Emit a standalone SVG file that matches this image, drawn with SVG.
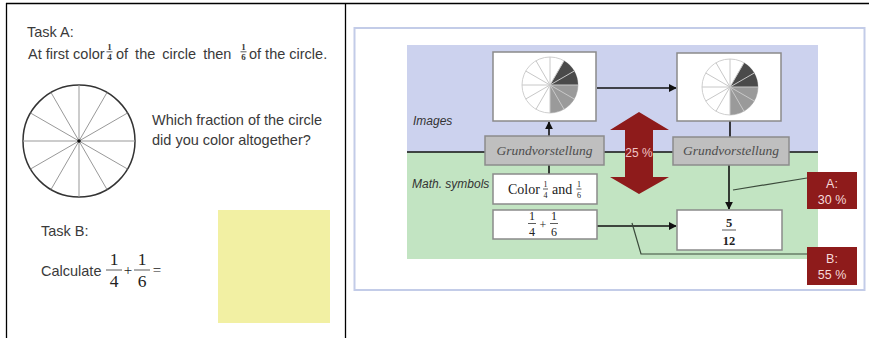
<svg xmlns="http://www.w3.org/2000/svg" width="869" height="338" viewBox="0 0 869 338">
  <defs>
    <style>
      .task{font-family:"Liberation Sans",Arial,sans-serif;font-size:14.5px;fill:#3a3a3a}
      .fs{font-family:"Liberation Serif","Times New Roman",serif;font-size:9px;font-weight:bold;fill:#3a3a3a;text-anchor:middle}
      .math{font-family:"Liberation Serif","Times New Roman",serif;fill:#222;text-anchor:middle}
      .math.start{text-anchor:start}
      .bar{stroke:#333;stroke-width:0.8}
      .lbl{font-family:"Liberation Sans",Arial,sans-serif;font-style:italic;font-size:12px;fill:#333}
      .gv rect{fill:#bfbfbf;stroke:#8c8c8c;stroke-width:1.5}
      .gv text{font-family:"Liberation Serif","Times New Roman",serif;font-style:italic;font-size:13.5px;fill:#4d4d4d;text-anchor:middle}
      .box{fill:#fff;stroke:#8a8a8a;stroke-width:1.5}
      .pct rect{fill:#8e1b1b}
      .pct text{font-family:"Liberation Sans",Arial,sans-serif;font-size:12.5px;fill:#f5dada;text-anchor:middle}
      .conn{stroke:#111;stroke-width:1.6;fill:none}
      .ptr{stroke:#3b4a3b;stroke-width:1.2;fill:none}
      .frame{stroke:#000;stroke-width:1.3;fill:none}
    </style>
    <marker id="arr" viewBox="0 0 10 10" refX="9" refY="5" markerWidth="5" markerHeight="5" orient="auto">
      <path d="M0,0 L10,5 L0,10 z" fill="#111"/>
    </marker>
    <!-- twelve-part pie, 5/12 shaded -->
    <g id="pie">
      <circle r="28" fill="#fff" stroke="#cfcfcf" stroke-width="1"/>
      <path d="M0,0 L14,-24.25 A28,28 0 0 1 28,0 Z" fill="#4a4a4a"/>
      <path d="M0,0 L28,0 A28,28 0 0 1 0,28 Z" fill="#9a9a9a"/>
      <path d="M0,-28 L0,28 M14,-24.25 L-14,24.25 M24.25,-14 L-24.25,14 M28,0 L-28,0 M24.25,14 L-24.25,-14 M14,24.25 L-14,-24.25" stroke="#c8c8c8" stroke-width="1" fill="none"/>
    </g>
  </defs>

  <rect width="869" height="338" fill="#fff"/>

  <!-- table frame -->
  <path class="frame" d="M6,3.5 H869 M6.5,3 V338 M345.5,3 V338"/>

  <!-- Task A -->
  <g id="taskA">
    <text class="task" x="27" y="37">Task A:</text>
    <text class="task" x="28" y="59">At first color</text>
    <text class="fs" x="109.5" y="50">1</text>
    <line class="bar" x1="106.5" y1="51.8" x2="112.5" y2="51.8"/>
    <text class="fs" x="109.5" y="60">4</text>
    <text class="task" x="116" y="59" word-spacing="3">of the circle then</text>
    <text class="fs" x="243.5" y="50">1</text>
    <line class="bar" x1="240.5" y1="51.8" x2="246.5" y2="51.8"/>
    <text class="fs" x="243.5" y="60">6</text>
    <text class="task" x="249" y="59">of the circle.</text>
  </g>

  <!-- circle divided into twelfths -->
  <g id="circleA">
    <circle cx="79" cy="141" r="56" fill="#fff" stroke="#333" stroke-width="1.5"/>
    <path d="M79,85 L79,197 M107,92.5 L51,189.5 M127.5,113 L30.5,169 M23,141 L135,141 M127.5,169 L30.5,113 M107,189.5 L51,92.5" stroke="#999" stroke-width="1" fill="none"/>
    <circle cx="79" cy="141" r="1.8" fill="#111"/>
  </g>

  <g id="question">
    <text class="task" x="152" y="125">Which fraction of the circle</text>
    <text class="task" x="152" y="145">did you color altogether?</text>
  </g>

  <!-- Task B -->
  <g id="taskB">
    <text class="task" x="41" y="236">Task B:</text>
    <text class="task" x="41" y="276" font-size="13.5">Calculate</text>
    <text class="math" x="114" y="265" font-size="17.5">1</text>
    <line class="bar" x1="106" y1="270" x2="122" y2="270"/>
    <text class="math" x="114" y="287" font-size="17.5">4</text>
    <text class="math" x="128" y="275" font-size="15">+</text>
    <text class="math" x="142" y="265" font-size="17.5">1</text>
    <line class="bar" x1="134" y1="270" x2="150" y2="270"/>
    <text class="math" x="142" y="287" font-size="17.5">6</text>
    <text class="math" x="157" y="275" font-size="15">=</text>
  </g>

  <rect id="answer" x="218" y="210" width="112" height="113" fill="#f2f0a3"/>

  <!-- model panel -->
  <rect x="354.5" y="28" width="510" height="262" fill="#fff" stroke="#c3cce8" stroke-width="2"/>
  <rect x="407" y="45" width="411" height="107" fill="#ccd2ee"/>
  <rect x="407" y="152" width="411" height="107" fill="#c2e4c2"/>
  <line x1="407" y1="152" x2="818" y2="152" stroke="#111" stroke-width="1.5"/>
  <text class="lbl" x="413" y="125">Images</text>
  <text class="lbl" x="412" y="188">Math. symbols</text>

  <!-- connectors -->
  <g id="connectors">
    <line class="conn" x1="597" y1="88" x2="676" y2="88" marker-end="url(#arr)"/>
    <line class="conn" x1="549" y1="136" x2="549" y2="122" marker-end="url(#arr)"/>
    <line class="conn" x1="730" y1="137" x2="730" y2="121"/>
    <line class="conn" x1="549" y1="165" x2="549" y2="174"/>
    <line class="conn" x1="729" y1="165" x2="729" y2="209" marker-end="url(#arr)"/>
    <line class="conn" x1="597" y1="226" x2="676" y2="226" marker-end="url(#arr)"/>
    <line class="ptr" x1="807" y1="178" x2="733" y2="190"/>
    <polyline class="ptr" points="807,254 641,254 632,223"/>
  </g>

  <g id="img1">
    <rect class="box" x="493" y="52" width="103" height="69"/>
    <use href="#pie" x="550" y="85"/>
  </g>
  <g id="img2">
    <rect class="box" x="677" y="53" width="104" height="68"/>
    <use href="#pie" x="730" y="87"/>
  </g>

  <g id="gv1" class="gv">
    <rect x="485" y="136" width="119" height="29"/>
    <text x="544.5" y="155">Grundvorstellung</text>
  </g>
  <g id="gv2" class="gv">
    <rect x="673" y="137" width="116" height="28"/>
    <text x="731" y="155">Grundvorstellung</text>
  </g>

  <g id="colorBox">
    <rect class="box" x="493" y="174" width="104" height="30"/>
    <text class="math start" x="508" y="194" font-size="14">Color</text>
    <text class="math" x="545.5" y="187" font-size="8">1</text>
    <line class="bar" x1="543" y1="189" x2="548" y2="189"/>
    <text class="math" x="545.5" y="197.5" font-size="8">4</text>
    <text class="math start" x="552" y="194" font-size="14">and</text>
    <text class="math" x="579" y="187" font-size="8">1</text>
    <line class="bar" x1="576.5" y1="189" x2="581.5" y2="189"/>
    <text class="math" x="579" y="197.5" font-size="8">6</text>
  </g>

  <g id="sumBox">
    <rect class="box" x="493" y="210" width="104" height="29"/>
    <text class="math" x="532" y="220" font-size="12">1</text>
    <line class="bar" x1="528" y1="223.5" x2="536" y2="223.5"/>
    <text class="math" x="532" y="236" font-size="12">4</text>
    <text class="math" x="543" y="229" font-size="12">+</text>
    <text class="math" x="554" y="220" font-size="12">1</text>
    <line class="bar" x1="550" y1="223.5" x2="558" y2="223.5"/>
    <text class="math" x="554" y="236" font-size="12">6</text>
  </g>

  <g id="resultBox">
    <rect class="box" x="677" y="210" width="105" height="40"/>
    <text class="math" x="729" y="227" font-size="12.5" font-weight="bold" fill="#555">5</text>
    <line class="bar" x1="722" y1="230" x2="736" y2="230"/>
    <text class="math" x="729" y="245" font-size="12.5" font-weight="bold" fill="#555">12</text>
  </g>

  <g id="transfer">
    <polygon points="639,112 669,130 653,130 653,177 669,177 639,194 610,177 625,177 625,130 610,130" fill="#8e1b1b"/>
    <text x="639" y="157" font-family="Liberation Sans, Arial, sans-serif" font-size="12" fill="#f0c4c4" text-anchor="middle">25 %</text>
  </g>

  <g id="resultA" class="pct">
    <rect x="807" y="172" width="50" height="37"/>
    <text x="832" y="188">A:</text>
    <text x="832" y="204">30 %</text>
  </g>
  <g id="resultB" class="pct">
    <rect x="807" y="247" width="50" height="38"/>
    <text x="832" y="263">B:</text>
    <text x="832" y="279">55 %</text>
  </g>
</svg>
